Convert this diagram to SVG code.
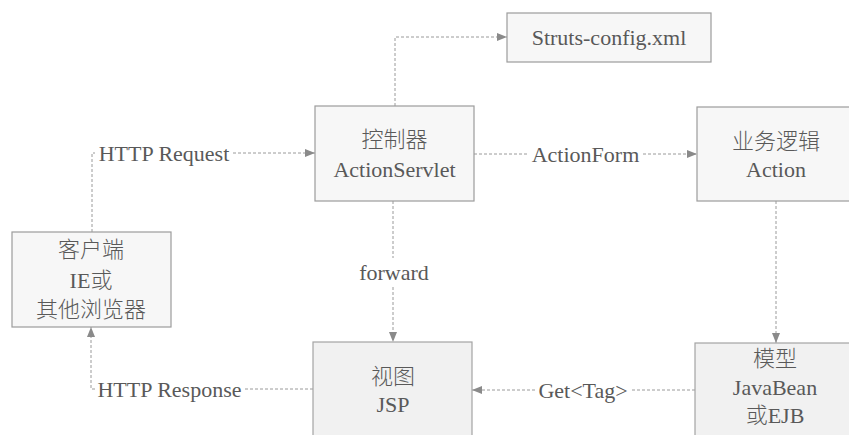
<svg xmlns="http://www.w3.org/2000/svg" width="849" height="435" viewBox="0 0 849 435">
  <defs>
    <marker id="arrow" viewBox="0 0 10 8" refX="10" refY="4" markerWidth="10" markerHeight="8" markerUnits="userSpaceOnUse" orient="auto">
      <path d="M0,0 L10,4 L0,8 Z" fill="#8a8a8a"/>
    </marker>
    <style>
      .box { fill: #f7f7f7; stroke: #9c9c9c; stroke-width: 1.2; }
      .box2 { fill: #f1f1f1; stroke: #a4a4a4; stroke-width: 1.2; }
      text { font-size: 22px; fill: #595959; text-anchor: middle; }
      .en { font-family: "Liberation Serif", "Times New Roman", serif; }
      .zh { font-family: "Noto Sans CJK SC", sans-serif; font-weight: 300; }
      .ln { fill: none; stroke: #9a9a9a; stroke-width: 1; stroke-dasharray: 3 2; }
    </style>
  </defs>
  <rect width="849" height="435" fill="#ffffff"/>

  <!-- connectors with their labels -->
  <g id="connectors">
    <path class="ln" d="M395,106 V37 H507" marker-end="url(#arrow)"/>
    <path class="ln" d="M92,232 V153 H95"/>
    <path class="ln" d="M233,153 H315" marker-end="url(#arrow)"/>
    <path class="ln" d="M474,154 H528"/>
    <path class="ln" d="M643,154 H697" marker-end="url(#arrow)"/>
    <path class="ln" d="M393,201 V258"/>
    <path class="ln" d="M393,287 V342" marker-end="url(#arrow)"/>
    <path class="ln" d="M776,201 V343" marker-end="url(#arrow)"/>
    <path class="ln" d="M695,390 H631"/>
    <path class="ln" d="M535,390 H472" marker-end="url(#arrow)"/>
    <path class="ln" d="M313,389 H245"/>
    <path class="ln" d="M95,389 H91 V327" marker-end="url(#arrow)"/>
    <text class="en" x="164" y="161">HTTP Request</text>
    <text class="en" x="585.5" y="162">ActionForm</text>
    <text class="en" x="394" y="280">forward</text>
    <text class="en" x="583" y="398">Get&lt;Tag&gt;</text>
    <text class="en" x="169.5" y="397">HTTP Response</text>
  </g>

  <!-- boxes -->
  <g id="struts-config">
    <rect class="box" x="507" y="13" width="204" height="49"/>
    <text class="en" x="609" y="45">Struts-config.xml</text>
  </g>
  <g id="controller">
    <rect class="box" x="315" y="106" width="159" height="95"/>
    <text class="zh" x="394.5" y="147">控制器</text>
    <text class="en" x="394.5" y="177">ActionServlet</text>
  </g>
  <g id="action">
    <rect class="box" x="697" y="107" width="170" height="94"/>
    <text class="zh" x="776" y="149">业务逻辑</text>
    <text class="en" x="776" y="177">Action</text>
  </g>
  <g id="client">
    <rect class="box" x="12" y="232" width="159" height="95"/>
    <text class="zh" x="91" y="257">客户端</text>
    <text x="91" y="288"><tspan class="en">IE</tspan><tspan class="zh">或</tspan></text>
    <text class="zh" x="91" y="317">其他浏览器</text>
  </g>
  <g id="view">
    <rect class="box2" x="313" y="342" width="159" height="110"/>
    <text class="zh" x="393" y="384">视图</text>
    <text class="en" x="393" y="412">JSP</text>
  </g>
  <g id="model">
    <rect class="box2" x="695" y="343" width="170" height="110"/>
    <text class="zh" x="775" y="366">模型</text>
    <text class="en" x="775" y="395">JavaBean</text>
    <text x="775" y="423"><tspan class="zh">或</tspan><tspan class="en">EJB</tspan></text>
  </g>
</svg>
